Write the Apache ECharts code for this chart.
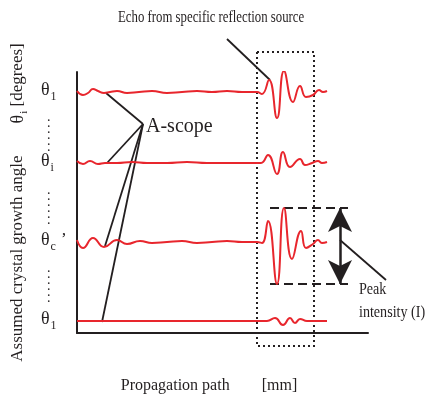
<!DOCTYPE html>
<html>
<head>
<meta charset="utf-8">
<script src="https://cdn.jsdelivr.net/npm/echarts@6/dist/echarts.min.js"></script>
<style>
html, body { margin: 0; padding: 0; background: #fff; }
#main { width: 432px; height: 401px; }
</style>
</head>
<body>
<div id="main"></div>
<script>
// rows of the A-scope stack (assumed angle), top to bottom
var rowSubs = ['1', 'i', 'c', '1'];
var rowLevels = [241, 170, 91, 12];
var dotLevels = [201, 128, 50];

// waveforms as [path, amplitude]
var waveTop = [[0, 1], [6, -3], [11, -1], [16, 3], [21, 1], [27, -1], [33, 0], [40, 1], [50, -1], [62, 0], [75, 1],
    [90, -1], [105, 0], [120, 1], [135, 0], [150, 1], [165, 0], [180, 0], [185, -2], [192, 12], [200, -26],
    [207, 21], [216, -10], [223, 6], [229, -5], [236, -3], [242, 2], [246, 0], [250, 1]];
var waveI = [[0, 2], [6, -1], [13, 2], [21, -1], [28, 0], [40, 0], [55, 1], [70, 0], [90, 0], [110, 1], [130, 0],
    [150, 0], [170, 0], [184, 0], [191, 8], [200, -11], [206, 11], [213, -4], [223, 4], [228, -2], [235, 0],
    [241, 2], [245, 0], [250, 1]];
var waveC = [[0, 2], [6, -6], [16, 4], [27, -5], [40, 2], [50, -2], [63, 1], [75, -1], [90, 0], [105, 1], [120, -1],
    [135, 0], [150, 1], [165, 0], [180, 0], [185, -1], [191, 21], [200, -42], [207, 34], [215, -17], [224, 11],
    [229, -6], [236, -2], [241, 2], [245, -1], [250, 0]];
var waveBottom = [[0, 0], [20, 0], [50, 0], [90, 0], [130, 0], [170, 0], [190, 0], [198, 3], [206, -4], [213, 3],
    [218, -2], [223, 2], [230, 0], [250, 0]];

var pathMax = 291;
var levelMax = 261;

var ink = '#231f20';
var red = '#e8262d';
var serif = 'Liberation Serif';

var chart = echarts.init(document.getElementById('main'));

function trace(wave, level) {
    return {
        type: 'line',
        data: wave.map(function (p) { return [p[0], level + p[1]]; }),
        showSymbol: false,
        smooth: 0.5,
        silent: true,
        lineStyle: { color: red, width: 2 }
    };
}

// annotation stroke, placed through the chart's own axes
function stroke(points, width, dash) {
    return {
        type: 'custom',
        silent: true,
        clip: false,
        z: 3,
        data: [points[0]],
        renderItem: function (params, api) {
            return {
                type: 'polyline',
                shape: { points: points.map(function (p) { return api.coord(p); }) },
                style: { stroke: ink, lineWidth: width, fill: null, lineDash: dash || null }
            };
        }
    };
}

var peakHi = rowLevels[2] + Math.max.apply(null, waveC.map(function (p) { return p[1]; }));
var peakLo = rowLevels[2] + Math.min.apply(null, waveC.map(function (p) { return p[1]; }));
var peakMid = (peakHi + peakLo) / 2;

var hub = [66, 209];

var series = [
    trace(waveTop, rowLevels[0]),
    trace(waveI, rowLevels[1]),
    trace(waveC, rowLevels[2]),
    trace(waveBottom, rowLevels[3]),
    // A-scope leaders
    stroke([[29, rowLevels[0] - 1], hub], 1.8),
    stroke([[30, rowLevels[1]], hub], 1.8),
    stroke([[28, rowLevels[2] - 4], hub], 1.8),
    stroke([[25, rowLevels[3] - 1], hub], 1.8),
    // echo leader
    stroke([[150, 294], [193, rowLevels[0] + 12]], 1.8),
    // dotted window
    stroke([[180, 281], [237, 281], [237, -13], [180, -13], [180, 281]], 2, [2, 3]),
    // peak level markers
    stroke([[193, peakHi], [271, peakHi]], 1.8, [9, 5]),
    stroke([[193, peakLo], [271, peakLo]], 1.8, [9, 5]),
    // peak intensity leader
    stroke([[263, peakMid + 6], [309, 53]], 1.8),
    // double arrow
    {
        type: 'line',
        data: [],
        silent: true,
        markLine: {
            silent: true,
            animation: false,
            symbol: ['none', 'arrow'],
            symbolSize: [18, 24],
            label: { show: false },
            emphasis: { disabled: true },
            lineStyle: { color: ink, width: 2.5, type: 'solid' },
            data: [
                [{ coord: [263, peakMid] }, { coord: [263, peakHi] }],
                [{ coord: [263, peakMid] }, { coord: [263, peakLo] }]
            ]
        }
    }
];

var option = {
    animation: false,
    grid: { left: 77, top: 72, right: 64, bottom: 68, outerBoundsMode: 'none' },
    xAxis: {
        type: 'value',
        min: 0,
        max: pathMax,
        axisLine: { show: true, lineStyle: { color: ink, width: 2 } },
        axisTick: { show: false },
        axisLabel: { show: false },
        splitLine: { show: false },
        name: '{a|Propagation path}{b|[mm]}',
        nameLocation: 'middle',
        nameGap: 45,
        nameTextStyle: {
            padding: [0, 27, 0, 0],
            rich: {
                a: { fontFamily: serif, fontSize: 16, color: ink },
                b: { fontFamily: serif, fontSize: 16, color: ink, padding: [0, 0, 0, 32] }
            }
        }
    },
    yAxis: {
        type: 'value',
        min: 0,
        max: levelMax,
        axisLine: { show: true, lineStyle: { color: ink, width: 2 } },
        axisTick: { show: false },
        splitLine: { show: false },
        axisLabel: {
            customValues: rowLevels.concat(dotLevels),
            align: 'left',
            margin: 36,
            formatter: function (v) {
                var k = rowLevels.indexOf(v);
                if (k < 0) return '{d|.}\n{d|.}\n{d|.}\n{d|.}\n{d|.}\n{d|.}';
                var s = '{t|θ}{s|' + rowSubs[k] + '}';
                if (rowSubs[k] === 'c') s += '{p|’}';
                return s;
            },
            rich: {
                t: { fontFamily: serif, fontSize: 18, color: ink, verticalAlign: 'top', lineHeight: 20 },
                s: { fontFamily: serif, fontSize: 12, color: ink, verticalAlign: 'top', padding: [10, 0, 0, 1] },
                p: { fontFamily: serif, fontSize: 17, color: ink, verticalAlign: 'top', padding: [0, 0, 0, 5] },
                d: { fontFamily: serif, fontSize: 14, color: ink, lineHeight: 6, padding: [0, 0, 0, 6] }
            }
        },
        name: '{n|Assumed crystal growth angle}{t|θ}{s|i}{n| [degrees]}',
        nameLocation: 'middle',
        nameRotate: 90,
        nameGap: 45,
        nameTextStyle: {
            rich: {
                n: { fontFamily: serif, fontSize: 17, color: ink, verticalAlign: 'top', lineHeight: 20 },
                t: { fontFamily: serif, fontSize: 18, color: ink, verticalAlign: 'top', lineHeight: 20, padding: [0, 0, 0, 32] },
                s: { fontFamily: serif, fontSize: 11, color: ink, verticalAlign: 'top', padding: [10, 0, 0, 1] }
            }
        }
    },
    graphic: [
        { type: 'text', x: 118, y: 18, scaleX: 0.8, style: { text: 'Echo from specific reflection source', font: '16px "Liberation Serif"', fill: ink, verticalAlign: 'middle' } },
        { type: 'text', x: 146, y: 127, style: { text: 'A-scope', font: '20px "Liberation Serif"', fill: ink, verticalAlign: 'middle' } },
        { type: 'text', x: 359, y: 290, scaleX: 0.88, style: { text: 'Peak', font: '16px "Liberation Serif"', fill: ink, verticalAlign: 'middle' } },
        { type: 'text', x: 359, y: 313, scaleX: 0.88, style: { text: 'intensity (I)', font: '16px "Liberation Serif"', fill: ink, verticalAlign: 'middle' } }
    ],
    series: series
};

chart.setOption(option);
</script>
</body>
</html>
